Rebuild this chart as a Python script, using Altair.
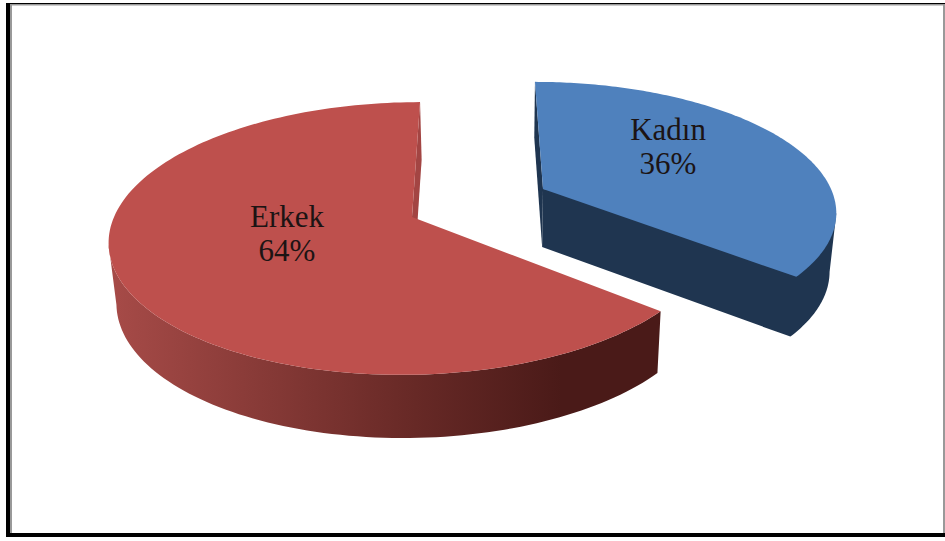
import numpy as np
import altair as alt

# Slice names and shares, in drawing order clockwise from twelve o'clock
names = ["Kadın", "Erkek"]
shares = [36, 64]
label_x = [668, 287]
label_y_first = [140, 227]
label_y_second = [174, 261]

# Perspective disc for each slice: apex, half axes, foreshortening, shear, thickness
DISC_KADIN = dict(cx=543, cy=189, a=288, b=124, k=0.1575, shear=0.075, depth=58)
DISC_ERKEK = dict(cx=412, cy=217, a=298, b=133, k=0.1575, shear=-0.07, depth=60)
VANISH_X = 500
LOWER_SCALE = 0.98

TOP_RED = "#BE504D"
TOP_BLUE = "#4F81BD"
WALL_BLUE = "#1F3550"
CUT_RED = "#A34543"
SERIF = "Liberation Serif"

WIDTH, HEIGHT = 945, 541


def rim(disc, start_deg, end_deg, n=160):
    theta = np.radians(np.linspace(start_deg, end_deg, n))
    u, v = np.sin(theta), np.cos(theta)
    w = 1 + disc["k"] * v
    y = disc["cy"] - disc["b"] * v / w
    x = disc["cx"] + disc["a"] * u / w + disc["shear"] * (y - disc["cy"])
    return np.column_stack([x, y])


def lower(disc, pts):
    pts = np.asarray(pts, dtype=float)
    x = VANISH_X + (pts[:, 0] - VANISH_X) * LOWER_SCALE
    y = pts[:, 1] + disc["depth"] + 0.02 * (pts[:, 1] - disc["cy"])
    return np.column_stack([x, y])


def polygon(pts):
    ring = [[float(px), float(py)] for px, py in pts]
    ring.append(ring[0])
    return {"type": "Feature", "properties": {},
            "geometry": {"type": "Polygon", "coordinates": [ring]}}


def shape(pts, fill):
    return alt.Chart(alt.Data(values=[polygon(pts)])).mark_geoshape(
        fill=fill, stroke=None, strokeWidth=0
    )


def band(x0, y0, x1, y1, fill):
    return shape([[x0, y0], [x1, y0], [x1, y1], [x0, y1]], fill)


# Slice boundaries in degrees come straight from the shares
cum = np.cumsum([0] + shares) / sum(shares) * 360
blue_start, blue_end = cum[0], cum[1]
red_start, red_end = cum[1], cum[2]

blue_apex = np.array([[DISC_KADIN["cx"], DISC_KADIN["cy"]]], dtype=float)
red_apex = np.array([[DISC_ERKEK["cx"], DISC_ERKEK["cy"]]], dtype=float)

blue_rim = rim(DISC_KADIN, blue_start, blue_end)
red_rim = rim(DISC_ERKEK, red_start, red_end)

blue_top = np.vstack([blue_apex, blue_rim])
red_top = np.vstack([red_apex, red_rim])

# Kadın: outer wall and front cut as one dark body, from the rightmost rim point on
i_right = int(np.argmax(blue_rim[:, 0]))
blue_body = np.vstack([
    blue_apex,
    blue_rim[i_right:i_right + 1],
    lower(DISC_KADIN, blue_rim[i_right:]),
    lower(DISC_KADIN, blue_apex),
])
cut_back = np.vstack([blue_apex, blue_rim[:1]])
blue_back = np.vstack([cut_back, lower(DISC_KADIN, cut_back)[::-1]])

# Erkek: shaded outer wall up to the leftmost rim point, and the thin back cut
i_left = int(np.argmin(red_rim[:, 0]))
red_outer = np.vstack([red_rim[:i_left + 1], lower(DISC_ERKEK, red_rim[:i_left + 1])[::-1]])
cut_red = np.vstack([red_apex, red_rim[-1:]])
red_back = np.vstack([cut_red, lower(DISC_ERKEK, cut_red)[::-1]])

wall_gradient = alt.Gradient(
    gradient="linear", x1=1, x2=0, y1=0, y2=0,
    stops=[
        alt.GradientStop(color="#4A1A18", offset=0),
        alt.GradientStop(color="#4A1A18", offset=0.18),
        alt.GradientStop(color="#6B2B28", offset=0.48),
        alt.GradientStop(color="#A74B48", offset=1),
    ],
)

label_rows = []
for name, share, lx, y1, y2 in zip(names, shares, label_x, label_y_first, label_y_second):
    label_rows.append({"x": lx, "y": y1, "text": name})
    label_rows.append({"x": lx, "y": y2, "text": f"{share}%"})

labels = alt.Chart(alt.Data(values=label_rows)).mark_text(
    font=SERIF, fontSize=31, color="#1C1414", align="center", baseline="alphabetic"
).encode(longitude="x:Q", latitude="y:Q", text="text:N")

chart = alt.layer(
    band(0, 0, WIDTH, HEIGHT, "#FFFFFF"),
    shape(blue_back, WALL_BLUE),
    shape(blue_body, WALL_BLUE),
    shape(blue_top, TOP_BLUE),
    shape(red_back, CUT_RED),
    shape(red_outer, wall_gradient),
    shape(red_top, TOP_RED),
    labels,
    # Frame: heavy black left and bottom edges with a grey inner line
    band(6, 3, 945, 4, "#000000"),
    band(10, 4, 945, 5.5, "#999999"),
    band(6, 3, 10, 537, "#000000"),
    band(10, 4, 12, 533, "#999999"),
    band(943, 4, 945, 533, "#999999"),
    band(6, 533, 945, 537, "#000000"),
).project(type="identity", scale=1, translate=[0, 0]).properties(
    width=WIDTH, height=HEIGHT, padding=0,
    autosize=alt.AutoSizeParams(type="none"),
).configure_view(stroke=None)

chart.save("out.html", embed_options={"renderer": "svg", "actions": False})
